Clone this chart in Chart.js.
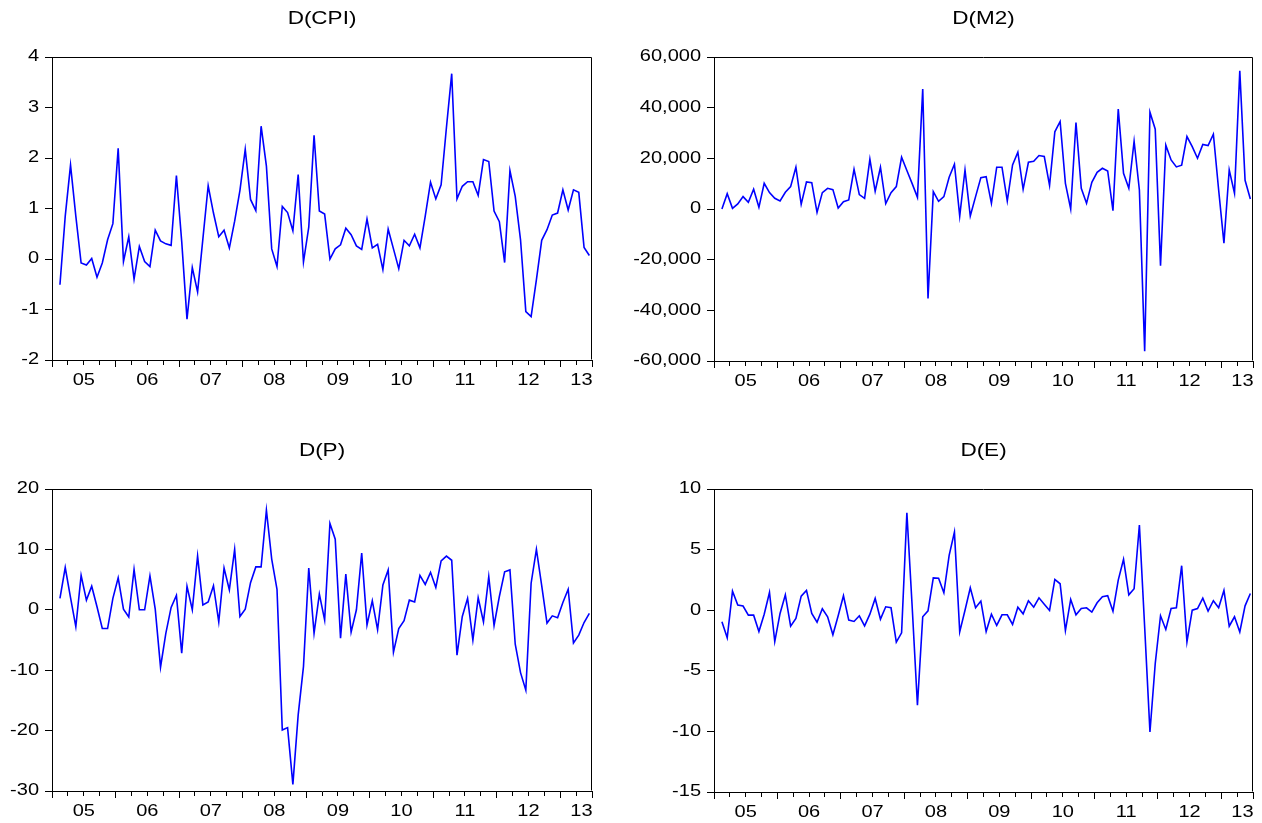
<!DOCTYPE html>
<html>
<head>
<meta charset="utf-8">
<script src="https://cdn.jsdelivr.net/npm/chart.js@4.4.1/dist/chart.umd.min.js"></script>
<style>
  html, body { margin: 0; padding: 0; background: #fff; }
  #page { position: relative; width: 1262px; height: 823px; overflow: hidden; background: #fff; }
  .panel { position: absolute; }
  .panel canvas { display: block; }
</style>
</head>
<body>
<div id="page">
  <div class="panel" style="left:0;top:0;width:631px;height:411px"><canvas id="c-cpi"></canvas></div>
  <div class="panel" style="left:631px;top:0;width:631px;height:411px"><canvas id="c-m2"></canvas></div>
  <div class="panel" style="left:0;top:411px;width:631px;height:412px"><canvas id="c-p"></canvas></div>
  <div class="panel" style="left:631px;top:411px;width:631px;height:412px"><canvas id="c-e"></canvas></div>
</div>
<script>
// Monthly sample: the axis runs 2005M01..2013M06, first differences start at 2005M02.
const axisMonths = 102;
const firstObsSlot = 1;
const yearLabels = ['05', '06', '07', '08', '09', '10', '11', '12', '13'];

const dCPI = [
  -0.51, 0.85, 1.86, 0.85, -0.08, -0.12, 0.01, -0.36, -0.08, 0.38,
  0.70, 2.19, -0.05, 0.44, -0.40, 0.25, -0.05, -0.15, 0.57, 0.36,
  0.30, 0.27, 1.65, 0.35, -1.19, -0.17, -0.65, 0.40, 1.45, 0.91,
  0.44, 0.57, 0.22, 0.75, 1.36, 2.17, 1.18, 0.96, 2.63, 1.84,
  0.20, -0.15, 1.04, 0.92, 0.56, 1.67, -0.06, 0.63, 2.45, 0.95,
  0.89, 0.00, 0.20, 0.28, 0.61, 0.48, 0.26, 0.19, 0.79, 0.22,
  0.29, -0.21, 0.59, 0.20, -0.19, 0.37, 0.26, 0.49, 0.22, 0.85,
  1.52, 1.19, 1.47, 2.60, 3.67, 1.19, 1.44, 1.53, 1.53, 1.26,
  1.97, 1.93, 0.95, 0.74, -0.07, 1.75, 1.24, 0.38, -1.04, -1.14,
  -0.41, 0.37, 0.58, 0.87, 0.91, 1.37, 0.97, 1.37, 1.32, 0.23,
  0.07
];

const dM2 = [
  0, 6060, 260, 2000, 4900, 2640, 7780, 660, 10150, 6460,
  4220, 3160, 6590, 8830, 16480, 1850, 10680, 10410, -1320, 6460,
  8170, 7650, 400, 2900, 3560, 15690, 5670, 4220, 19640, 6990,
  16480, 2110, 6460, 8830, 20430, 15200, 10000, 4610, 47330, -35330,
  6860, 3030, 4880, 12520, 17670, -2770, 15430, -2770, 4880, 12390,
  12790, 2240, 16480, 16480, 3160, 17400, 22410, 7780, 18460, 18850,
  21090, 20700, 9360, 30460, 34540, 10150, 0, 34150, 8170, 2240,
  10550, 14500, 16080, 15030, -660, 39420, 14110, 8170, 26760, 7510,
  -56160, 38230, 31510, -22410, 25180, 19380, 16610, 17270, 28610, 24650,
  20040, 25450, 25050, 29530, 7510, -13450, 15430, 6200, 54580, 11340,
  3950
];

const dP = [
  1.9, 7.0, 2.0, -2.8, 5.7, 1.6, 3.9, 0.5, -3.1, -3.1,
  1.9, 5.3, 0.1, -1.2, 6.7, 0.0, 0.0, 5.6, 0.1, -9.5,
  -3.9, 0.4, 2.4, -7.2, 3.9, 0.0, 8.9, 0.8, 1.3, 4.0,
  -2.0, 6.9, 3.3, 10.0, -1.1, 0.1, 4.5, 7.1, 7.1, 16.5,
  8.4, 3.4, -19.9, -19.5, -28.9, -17.4, -9.4, 6.9, -3.9, 2.6,
  -1.7, 14.3, 11.7, -4.7, 5.9, -3.7, 0.0, 9.4, -2.5, 1.5,
  -3.3, 4.1, 6.6, -7.0, -3.1, -1.8, 1.6, 1.3, 5.7, 4.2,
  6.2, 3.7, 8.1, 8.9, 8.2, -7.5, -1.1, 1.9, -5.0, 2.0,
  -2.0, 5.5, -2.6, 2.2, 6.3, 6.6, -5.7, -10.4, -13.3, 4.4,
  10.0, 4.0, -2.2, -1.0, -1.3, 1.2, 3.4, -5.5, -4.2, -2.1,
  -0.6
];

const dE = [
  -0.96, -2.28, 1.57, 0.42, 0.34, -0.41, -0.41, -1.76, -0.33, 1.46,
  -2.59, -0.27, 1.27, -1.32, -0.68, 1.16, 1.63, -0.27, -0.99, 0.12,
  -0.54, -2.03, -0.46, 1.19, -0.82, -0.93, -0.46, -1.29, -0.33, 0.97,
  -0.74, 0.28, 0.20, -2.64, -1.87, 8.04, 0.30, -7.84, -0.54, -0.05,
  2.67, 2.64, 1.44, 4.52, 6.44, -1.79, 0.00, 1.85, 0.20, 0.75,
  -1.76, -0.33, -1.26, -0.38, -0.38, -1.18, 0.25, -0.30, 0.78, 0.25,
  1.02, 0.50, -0.02, 2.54, 2.18, -1.68, 0.89, -0.38, 0.14, 0.20,
  -0.16, 0.61, 1.11, 1.19, -0.08, 2.48, 4.19, 1.27, 1.77, 7.03,
  -1.40, -10.05, -4.40, -0.46, -1.59, 0.14, 0.20, 3.67, -2.61, 0.00,
  0.14, 0.99, -0.08, 0.78, 0.20, 1.63, -1.32, -0.54, -1.79, 0.36,
  1.38
];

// ---- text: glyphs drawn slightly wide, as in the EViews export ----
const TEXT_STRETCH = 1.25;
const plainFillText = CanvasRenderingContext2D.prototype.fillText;
CanvasRenderingContext2D.prototype.fillText = function (text, x, y) {
  this.save();
  this.translate(x, y);
  this.scale(TEXT_STRETCH, 1);
  plainFillText.call(this, text, 0, 0);
  this.restore();
};

const FONT = '"Liberation Sans", Arial, sans-serif';
const X_AXIS_H = 30;
const TITLE_SIZE = 18;

// x ticks: quarter marks, year labels centred in each year (last partial year kept inside)
const quarterTicks = [];
for (let v = 0; v <= axisMonths; v += 3) quarterTicks.push(v);
const labelAt = new Map();
yearLabels.forEach((lab, j) => {
  labelAt.set(Math.min(12 * j + 6, axisMonths - 2), lab);
});
const xTickValues = Array.from(new Set([...quarterTicks, ...labelAt.keys()])).sort((a, b) => a - b);
const isMark = v => v % 3 === 0;
const isMajor = v => v % 12 === 0 || v === axisMonths;

function toPoints(values) {
  return values.map((v, i) => ({ x: firstObsSlot + i + 0.5, y: v }));
}

// closes the plot box along the top and right edges
const framePlugin = {
  id: 'frame',
  afterDraw(chart) {
    const { ctx, chartArea: a } = chart;
    const l = Math.round(a.left) + 0.5, r = Math.round(a.right) - 0.5;
    const t = Math.round(a.top) + 0.5, b = Math.round(a.bottom) - 0.5;
    ctx.save();
    ctx.strokeStyle = '#000';
    ctx.lineWidth = 1;
    ctx.beginPath();
    ctx.moveTo(l, t); ctx.lineTo(r, t); ctx.lineTo(r, b);
    ctx.stroke();
    ctx.restore();
  }
};

function makePanel(canvasId, title, values, yMin, yMax, yStep, fmt, box) {
  const lineH = TITLE_SIZE * 1.2;
  const padTop = box.titleMid - lineH / 2;
  const padBottom = box.top - padTop - lineH;
  return new Chart(document.getElementById(canvasId), {
    type: 'line',
    data: {
      datasets: [{
        data: toPoints(values),
        borderColor: '#0000ff',
        borderWidth: 1.6,
        pointRadius: 0,
        tension: 0,
        fill: false
      }]
    },
    options: {
      responsive: true,
      maintainAspectRatio: false,
      animation: false,
      devicePixelRatio: 1,
      events: [],
      layout: { padding: { left: 0, top: 0, right: box.w - box.right, bottom: box.h - box.bottom - X_AXIS_H } },
      plugins: {
        legend: { display: false },
        tooltip: { enabled: false },
        title: {
          display: true, text: title, fullSize: false, color: '#000',
          font: { family: FONT, size: TITLE_SIZE, weight: 'normal', lineHeight: 1.2 },
          padding: { top: padTop, bottom: padBottom }
        }
      },
      scales: {
        x: {
          type: 'linear', min: 0, max: axisMonths,
          afterBuildTicks: s => { s.ticks = xTickValues.map(v => ({ value: v })); },
          afterFit: s => { s.height = X_AXIS_H; },
          ticks: {
            autoSkip: false, maxRotation: 0, minRotation: 0, padding: 4,
            color: '#000', font: { family: FONT, size: 16 },
            callback: v => labelAt.get(v) || ''
          },
          grid: {
            drawOnChartArea: false, drawTicks: true, tickLength: 7, tickWidth: 1,
            tickColor: c => (c.tick && isMark(c.tick.value)) ? '#000' : 'rgba(0,0,0,0)',
            tickBorderDash: c => (c.tick && isMajor(c.tick.value)) ? [] : [4, 20]
          },
          border: { display: true, color: '#000', width: 1 }
        },
        y: {
          type: 'linear', min: yMin, max: yMax,
          afterFit: s => { s.width = box.axisW; },
          ticks: {
            stepSize: yStep, padding: 6, color: '#000',
            font: { family: FONT, size: 16 },
            callback: v => fmt(v)
          },
          grid: { drawOnChartArea: false, drawTicks: true, tickLength: 7, tickWidth: 1, tickColor: '#000' },
          border: { display: true, color: '#000', width: 1 }
        }
      }
    },
    plugins: [framePlugin]
  });
}

const plain = v => String(v);
const thousands = v => v.toLocaleString('en-US');

makePanel('c-cpi', 'D(CPI)', dCPI, -2, 4, 1, plain,
  { w: 631, h: 411, axisW: 52, right: 592, top: 57, bottom: 360, titleMid: 19 });
makePanel('c-m2', 'D(M2)', dM2, -60000, 60000, 20000, thousands,
  { w: 631, h: 411, axisW: 83, right: 622, top: 57, bottom: 361, titleMid: 19 });
makePanel('c-p', 'D(P)', dP, -30, 20, 10, plain,
  { w: 631, h: 412, axisW: 52, right: 592, top: 78, bottom: 380, titleMid: 40 });
makePanel('c-e', 'D(E)', dE, -15, 10, 5, plain,
  { w: 631, h: 412, axisW: 83, right: 622, top: 78, bottom: 381, titleMid: 40 });
</script>
</body>
</html>
